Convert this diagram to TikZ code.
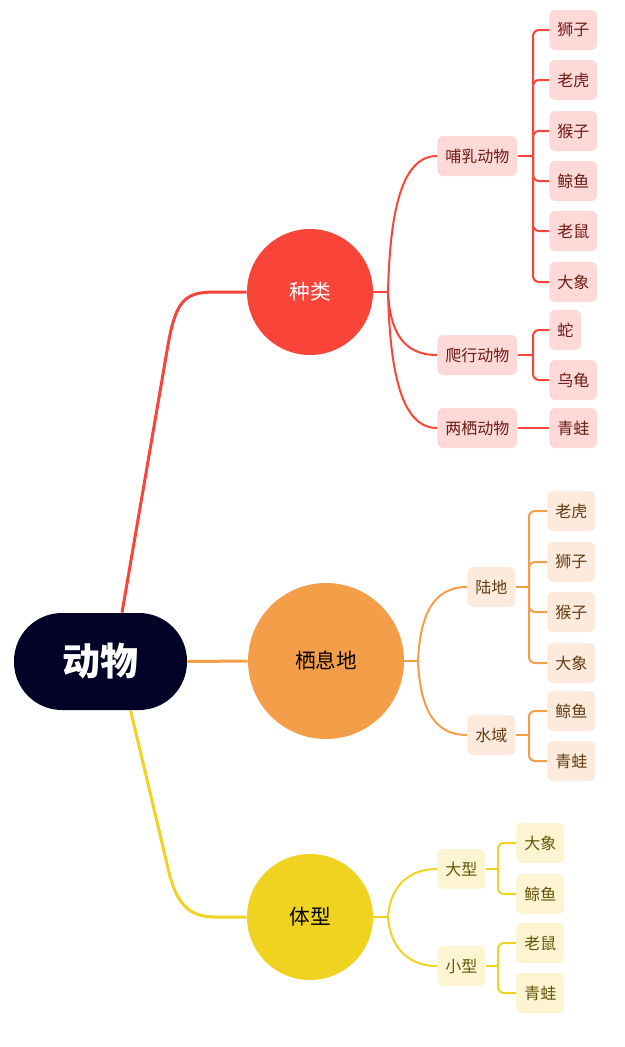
\documentclass[tikz,border=0pt]{standalone}
\usepackage{fontspec}
\setmainfont{Noto Sans CJK SC}
\usetikzlibrary{calc}
\definecolor{rootc}{RGB}{2,3,38}
\definecolor{redc}{RGB}{249,68,58}
\definecolor{redbox}{RGB}{253,218,216}
\definecolor{redtext}{RGB}{110,25,20}
\definecolor{orc}{RGB}{245,158,74}
\definecolor{orbox}{RGB}{252,235,220}
\definecolor{ortext}{RGB}{100,60,20}
\definecolor{yec}{RGB}{240,210,32}
\definecolor{yebox}{RGB}{253,245,210}
\definecolor{yetext}{RGB}{100,85,10}
\tikzset{
  boxbase/.style={rounded corners=4.5pt, minimum height=30pt, inner xsep=6pt, inner ysep=0pt, font=\fontsize{12}{14}\selectfont, anchor=west},
  rbox/.style={boxbase, fill=redbox, text=redtext},
  obox/.style={boxbase, fill=orbox, text=ortext},
  ybox/.style={boxbase, fill=yebox, text=yetext},
  circ/.style={circle, inner sep=0pt, font=\fontsize{15.5}{18}\selectfont},
  mainline/.style={line width=2.25pt},
  subline/.style={line width=1.5pt},
  stubline/.style={line width=2.2pt},
  leafline/.style={line width=1.5pt, rounded corners=4.5pt},
}
\begin{document}
\begin{tikzpicture}[x=0.75pt,y=-0.75pt]
\useasboundingbox (0,0) rectangle (625,1047);
% root
\node[fill=rootc, text=white, rounded corners=36pt, minimum width=129.75pt, minimum height=72.75pt, inner sep=0pt, font=\fontsize{28.5}{32}\selectfont\bfseries] (root) at (100.5,661.5) {动物};
% level 1
\node[circ, fill=redc, text=white, minimum size=94.5pt] (c1) at (310,292) {种类};
\node[circ, fill=orc, text=black, minimum size=117pt] (c2) at (326,661) {栖息地};
\node[circ, fill=yec, text=black, minimum size=94.5pt] (c3) at (310,917) {体型};
% root connectors
\draw[mainline, redc] ($(root.north)+(21.5,0)$) -- (168,345) .. controls (176,300) and (185,292) .. (215,292) -- (c1.west);
\draw[mainline, orc] (root.east) -- (c2.west);
\draw[mainline, yec] ($(root.south)+(30,0)$) -- (168,868) .. controls (176,905) and (190,917) .. (215,917) -- (c3.west);
% red level 2
\node[rbox] (m1) at (437,156) {哺乳动物};
\node[rbox] (m2) at (437,355) {爬行动物};
\node[rbox] (m3) at (437,428) {两栖动物};
\coordinate (rbr) at (388,292);
\draw[subline, redc] (c1.east) -- (rbr);
\draw[subline, redc] (rbr) .. controls +(2,-82) and +(-35,0) .. (m1.west);
\draw[subline, redc] (rbr) .. controls +(2,38) and +(-35,0) .. (m2.west);
\draw[subline, redc] (rbr) .. controls +(2,82) and +(-35,0) .. (m3.west);
% red leaves
\node[rbox] (r1) at (549,30) {狮子};
\node[rbox] (r2) at (549,80) {老虎};
\node[rbox] (r3) at (549,131) {猴子};
\node[rbox] (r4) at (549,181) {鲸鱼};
\node[rbox] (r5) at (549,231) {老鼠};
\node[rbox] (r6) at (549,282) {大象};
\node[rbox] (r7) at (549,330) {蛇};
\node[rbox] (r8) at (549,380) {乌龟};
\node[rbox] (r9) at (549,428) {青蛙};
\coordinate (rb1) at (533,156);
\coordinate (rb2) at (533,355);
\draw[stubline, redc] (m1.east) -- (rb1);
\foreach \n in {r1,r2,r3,r4,r5,r6} \draw[leafline, redc] (rb1) |- (\n.west);
\draw[stubline, redc] (m2.east) -- (rb2);
\foreach \n in {r7,r8} \draw[leafline, redc] (rb2) |- (\n.west);
\draw[subline, redc] (m3.east) -- (r9.west);
% orange level 2
\node[obox] (h1) at (467,587) {陆地};
\node[obox] (h2) at (467,735) {水域};
\coordinate (obr) at (418,661);
\draw[subline, orc] (c2.east) -- (obr);
\draw[subline, orc] (obr) .. controls +(2,-44) and +(-35,0) .. (h1.west);
\draw[subline, orc] (obr) .. controls +(2,44) and +(-35,0) .. (h2.west);
\node[obox] (o1) at (547,511) {老虎};
\node[obox] (o2) at (547,562) {狮子};
\node[obox] (o3) at (547,612) {猴子};
\node[obox] (o4) at (547,663) {大象};
\node[obox] (o5) at (547,711) {鲸鱼};
\node[obox] (o6) at (547,761) {青蛙};
\coordinate (ob1) at (529,587);
\coordinate (ob2) at (529,735);
\draw[stubline, orc] (h1.east) -- (ob1);
\foreach \n in {o1,o2,o3,o4} \draw[leafline, orc] (ob1) |- (\n.west);
\draw[stubline, orc] (h2.east) -- (ob2);
\foreach \n in {o5,o6} \draw[leafline, orc] (ob2) |- (\n.west);
% yellow level 2
\node[ybox] (s1) at (437,869) {大型};
\node[ybox] (s2) at (437,966) {小型};
\coordinate (ybr) at (388,917);
\draw[subline, yec] (c3.east) -- (ybr);
\draw[subline, yec] (ybr) .. controls +(2,-29) and +(-30,0) .. (s1.west);
\draw[subline, yec] (ybr) .. controls +(2,29) and +(-30,0) .. (s2.west);
\node[ybox] (y1) at (516,843) {大象};
\node[ybox] (y2) at (516,894) {鲸鱼};
\node[ybox] (y3) at (516,943) {老鼠};
\node[ybox] (y4) at (516,993) {青蛙};
\coordinate (yb1) at (498,869);
\coordinate (yb2) at (498,966);
\draw[stubline, yec] (s1.east) -- (yb1);
\foreach \n in {y1,y2} \draw[leafline, yec] (yb1) |- (\n.west);
\draw[stubline, yec] (s2.east) -- (yb2);
\foreach \n in {y3,y4} \draw[leafline, yec] (yb2) |- (\n.west);
\end{tikzpicture}
\end{document}
